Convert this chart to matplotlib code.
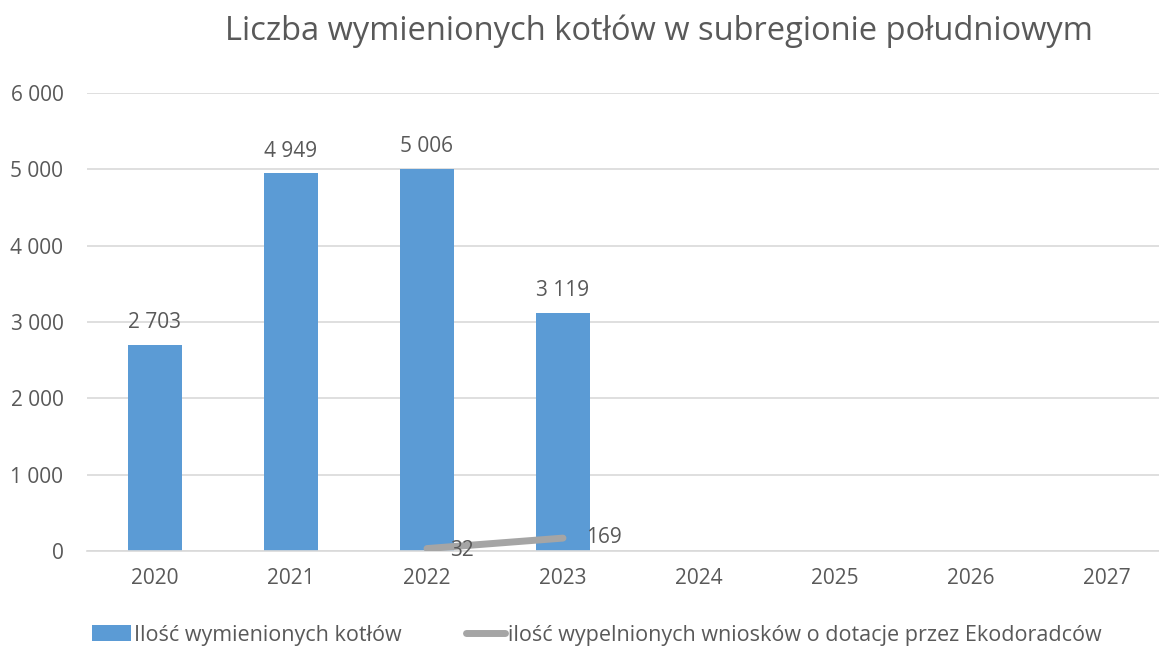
import matplotlib
matplotlib.use("Agg")
import matplotlib.pyplot as plt
import numpy as np

years = ["2020", "2021", "2022", "2023", "2024", "2025", "2026", "2027"]
bars = [2703, 4949, 5006, 3119, None, None, None, None]
line_years_idx = [2, 3]
line_vals = [32, 169]
yticks = [0, 1000, 2000, 3000, 4000, 5000, 6000]
ytick_labels = ["0", "1 000", "2 000", "3 000", "4 000", "5 000", "6 000"]
bar_name = "Ilość wymienionych kotłów"
line_name = "ilość wypelnionych wniosków o dotacje przez Ekodoradców"
title = "Liczba wymienionych kotłów w subregionie południowym"

plt.rcParams['font.family'] = ['Open Sans', 'DejaVu Sans']
TXT = "#595959"
W, H = 1159, 646
fig = plt.figure(figsize=(W/100, H/100), dpi=100)
ax = fig.add_axes([87/W, 1-551/H, (W-87)/W, (551-93)/H])

x = np.arange(len(years))
bx = [i for i, v in enumerate(bars) if v is not None]
bv = [v for v in bars if v is not None]
hb = ax.bar(bx, bv, width=0.4, color="#5B9BD5", zorder=2, label=bar_name)
hl, = ax.plot(line_years_idx, line_vals, color="#A5A5A5", lw=5, solid_capstyle="round", zorder=3, label=line_name)

FS = 15
for i, v in zip(bx, bv):
    ax.text(i, v + 150, f"{v:,}".replace(",", " "), ha="center", va="bottom", fontsize=FS, color=TXT)
ax.text(line_years_idx[0] + 0.17, line_vals[0] - 30, str(line_vals[0]), ha="left", va="center", fontsize=FS, color=TXT, zorder=4)
ax.text(line_years_idx[1] + 0.17, line_vals[1] + 10, str(line_vals[1]), ha="left", va="center", fontsize=FS, color=TXT, zorder=4)

ax.set_xlim(-0.5, -0.5 + (W-87)/136)
ax.set_ylim(0, 6000)
ax.set_yticks(yticks)
ax.set_yticklabels(ytick_labels)
ax.set_xticks(x)
ax.set_xticklabels(years)
ax.tick_params(axis='both', length=0, labelsize=FS, colors=TXT)
ax.tick_params(axis='y', pad=17)
ax.tick_params(axis='x', pad=12)
ax.grid(axis='y', color="#D9D9D9", lw=1.2, zorder=0)
for s in ["top", "right", "left"]:
    ax.spines[s].set_visible(False)
ax.spines["bottom"].set_color("#D9D9D9")
ax.spines["bottom"].set_linewidth(1.2)

fig.text(659/W, 1-31/H, title, ha="center", va="center", fontsize=23.5, color=TXT)

leg = fig.legend([hb, hl], [bar_name, line_name], loc="center", bbox_to_anchor=(597/W, 1-635/H), ncol=2, frameon=False,
                 fontsize=15.5, labelcolor=TXT, handlelength=1.8, handletextpad=0.15, columnspacing=3.0)

fig.savefig("out.png", dpi=100)
